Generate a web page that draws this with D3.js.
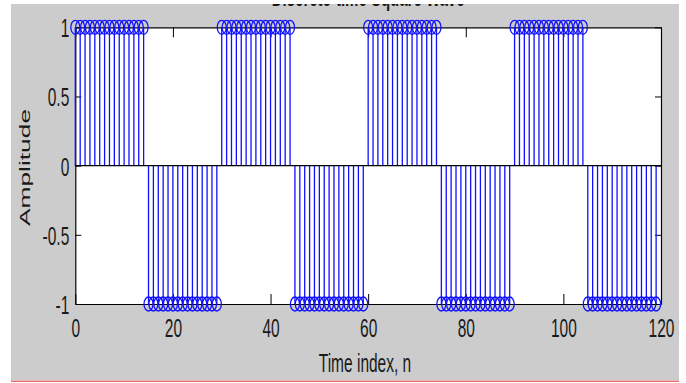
<!DOCTYPE html>
<html><head><meta charset="utf-8">
<script src="https://cdn.jsdelivr.net/npm/d3@7"></script>
<style>body{margin:0;background:#fff} svg{display:block}</style>
</head><body>
<script>
// Square wave samples (n = 0 .. 119)
const values = [
  1,1,1,1,1,1,1,1,1,1,1,1,1,1,1,
  -1,-1,-1,-1,-1,-1,-1,-1,-1,-1,-1,-1,-1,-1,-1,
  1,1,1,1,1,1,1,1,1,1,1,1,1,1,1,
  -1,-1,-1,-1,-1,-1,-1,-1,-1,-1,-1,-1,-1,-1,-1,
  1,1,1,1,1,1,1,1,1,1,1,1,1,1,1,
  -1,-1,-1,-1,-1,-1,-1,-1,-1,-1,-1,-1,-1,-1,-1,
  1,1,1,1,1,1,1,1,1,1,1,1,1,1,1,
  -1,-1,-1,-1,-1,-1,-1,-1,-1,-1,-1,-1,-1,-1,-1
];
const xTicks = [0, 20, 40, 60, 80, 100, 120];
const yTicks = [-1, -0.5, 0, 0.5, 1];
const yTickLabels = ["-1", "-0.5", "0", "0.5", "1"];
const xDomain = [0, 120];
const yDomain = [-1, 1];
const titleText = "Discrete-time Square Wave";
const xLabelText = "Time index, n";
const yLabelText = "Amplitude";

const W = 686, H = 383;
const SY = 1.7;           // vertical glyph stretch seen in the picture
const FONT = "'Liberation Sans', Arial, Helvetica, sans-serif";
const FS = 15.5;
const TXT = "#1a1a1a";

const svg = d3.select("body").append("svg").attr("width", W).attr("height", H);
svg.append("rect").attr("width", W).attr("height", H).attr("fill", "#fff");
// figure background
svg.append("rect").attr("x", 11).attr("y", 4).attr("width", 668).attr("height", 376).attr("fill", "#cccccc");
svg.append("rect").attr("x", 11).attr("y", 380.5).attr("width", 668).attr("height", 1.5).attr("fill", "#e07070");

const L = 75.3, R = 661, T = 27.3, B = 304;
const x = d3.scaleLinear().domain(xDomain).range([L, R]);
const y = d3.scaleLinear().domain(yDomain).range([B, T]);

// axes area
svg.append("rect").attr("x", L).attr("y", T).attr("width", R - L).attr("height", B - T).attr("fill", "#fff");

// title (partly cut off at the top, as in the reference)
svg.append("text").text(titleText)
  .attr("transform", `translate(${(L + R) / 2},6) scale(1,${SY})`)
  .attr("text-anchor", "middle").attr("font-family", FONT).attr("font-weight", "bold")
  .attr("font-size", 15).attr("fill", TXT);
svg.append("rect").attr("x", 0).attr("y", 0).attr("width", W).attr("height", 4).attr("fill", "#fff");

// axes with inward ticks
const gx = svg.append("g").attr("transform", `translate(0,${B})`)
  .call(d3.axisBottom(x).tickValues(xTicks).tickSizeInner(-10).tickSizeOuter(0).tickFormat(d3.format("d")));
const gxt = svg.append("g").attr("transform", `translate(0,${T})`)
  .call(d3.axisTop(x).tickValues(xTicks).tickSizeInner(-10).tickSizeOuter(0).tickFormat(""));
const gy = svg.append("g").attr("transform", `translate(${L},0)`)
  .call(d3.axisLeft(y).tickValues(yTicks).tickSizeInner(-6).tickSizeOuter(0).tickFormat((d, i) => yTickLabels[i]));
const gyr = svg.append("g").attr("transform", `translate(${R},0)`)
  .call(d3.axisRight(y).tickValues(yTicks).tickSizeInner(-6).tickSizeOuter(0).tickFormat(""));

[gx, gxt, gy, gyr].forEach(g => {
  g.selectAll("path.domain").attr("stroke", "#000").attr("stroke-width", 1.2);
  g.selectAll(".tick line").attr("stroke", "#000").attr("stroke-width", 1);
  g.attr("font-family", FONT).attr("font-size", FS);
});
gx.selectAll(".tick text")
  .attr("y", null).attr("dy", null)
  .attr("transform", `translate(0,33) scale(1,${SY})`)
  .attr("fill", TXT);
gy.selectAll(".tick text")
  .attr("x", null).attr("dy", null)
  .attr("transform", `translate(-6,9.4) scale(1,${SY})`)
  .attr("text-anchor", "end")
  .attr("fill", TXT);

// axis labels
svg.append("text").text(xLabelText)
  .attr("transform", `translate(365,371.5) scale(1,${SY})`)
  .attr("text-anchor", "middle").attr("font-family", FONT).attr("font-size", FS).attr("fill", TXT);
svg.append("text").text(yLabelText)
  .attr("transform", `translate(30,167.5) scale(1,${SY}) rotate(-90)`)
  .attr("text-anchor", "middle").attr("font-family", FONT).attr("font-size", FS).attr("fill", TXT);

// stems
const data = values.map((v, i) => ({ n: i, v }));
const blue = "#1010ff";
svg.append("g").selectAll("line").data(data).join("line")
  .attr("x1", d => x(d.n)).attr("x2", d => x(d.n))
  .attr("y1", y(0)).attr("y2", d => y(d.v))
  .attr("stroke", blue).attr("stroke-width", 1.3);
svg.append("g").selectAll("ellipse").data(data).join("ellipse")
  .attr("cx", d => x(d.n)).attr("cy", d => y(d.v))
  .attr("rx", 4.5).attr("ry", 7)
  .attr("fill", "none").attr("stroke", blue).attr("stroke-width", 1.3);

// baseline at zero
svg.append("line").attr("x1", x(xDomain[0])).attr("x2", x(xDomain[1]))
  .attr("y1", y(0)).attr("y2", y(0)).attr("stroke", "#000").attr("stroke-width", 1.2);
</script>
</body></html>
